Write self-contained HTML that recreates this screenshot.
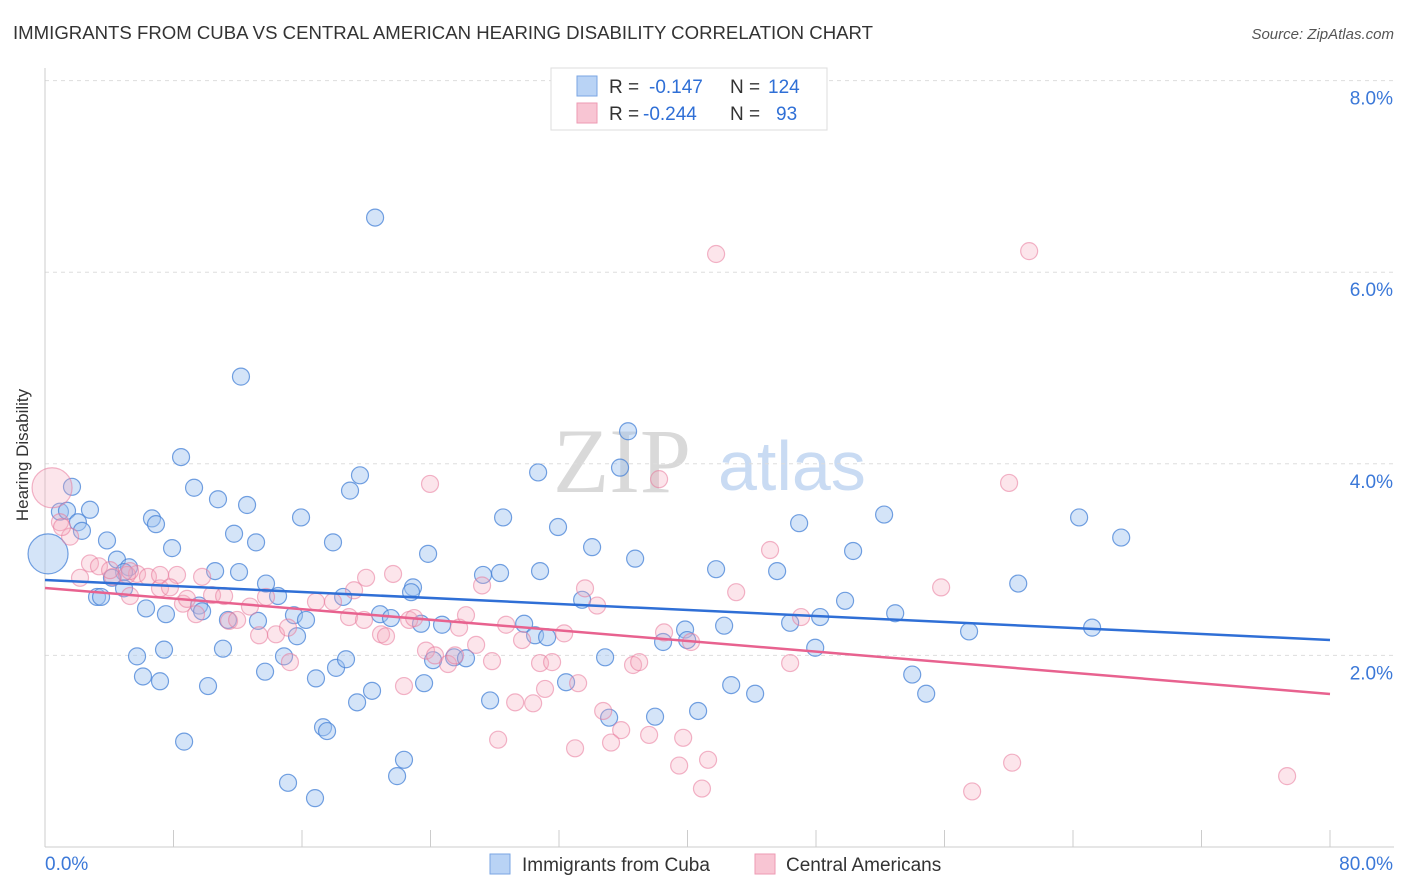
<!DOCTYPE html>
<html><head><meta charset="utf-8"><style>
body{margin:0;background:#fff;font-family:"Liberation Sans",sans-serif;}
svg{display:block}
</style></head><body>
<svg id="chart" width="1406" height="892">
<text x="13" y="39" font-size="18" fill="#333" textLength="860" lengthAdjust="spacingAndGlyphs">IMMIGRANTS FROM CUBA VS CENTRAL AMERICAN HEARING DISABILITY CORRELATION CHART</text>
<text x="1394" y="39" font-size="15" fill="#555" font-style="italic" text-anchor="end">Source: ZipAtlas.com</text>
<g>
<text x="553" y="492" font-size="92" font-family="Liberation Serif,serif" fill="#d9d9d9">ZIP</text>
<text x="718" y="490" font-size="70" fill="#c9dbf3">atlas</text>
</g>
<g id="grid"></g>
<g id="axes"></g>
<g id="pts"></g>
<g id="trend"></g>
<text x="28" y="455" font-size="17" fill="#333" transform="rotate(-90 28 455)" text-anchor="middle">Hearing Disability</text>
<g>
<rect x="551" y="68" width="276" height="62" fill="#fff" stroke="#ddd"/>
<rect x="577" y="76" width="20" height="20" fill="#b9d3f5" stroke="#7aa6e3"/>
<rect x="577" y="103" width="20" height="20" fill="#f8c5d3" stroke="#ee9ab3"/>
<text x="609" y="93" font-size="19" fill="#333">R = <tspan x="649" fill="#2f6fd6">-0.147</tspan><tspan x="730">N = </tspan><tspan x="768" fill="#2f6fd6">124</tspan></text>
<text x="609" y="120" font-size="19" fill="#333">R = <tspan x="643" fill="#2f6fd6">-0.244</tspan><tspan x="730">N = </tspan><tspan x="776" fill="#2f6fd6">93</tspan></text>
</g>
<g>
<rect x="490" y="854" width="20" height="20" fill="#b9d3f5" stroke="#7aa6e3"/>
<text x="522" y="871" font-size="19" fill="#333">Immigrants from Cuba</text>
<rect x="755" y="854" width="20" height="20" fill="#f8c5d3" stroke="#ee9ab3"/>
<text x="786" y="871" font-size="19" fill="#333">Central Americans</text>
</g>
</svg>
<script>
const yTicks=[2,4,6,8];
const yTickLabels=["2.0%","4.0%","6.0%","8.0%"];
const xTickLabels=["0.0%","80.0%"];
const blueX=[20.55,12.20,8.47,36.30,35.80,30.70,19.61,18.99,9.28,10.77,12.58,1.68,0.93,1.37,2.80,2.05,2.30,6.66,6.91,15.94,28.52,31.94,11.77,13.14,17.93,3.86,7.91,23.85,34.06,36.74,4.48,5.23,4.92,10.59,12.08,30.82,27.27,28.33,41.78,45.58,50.31,46.95,52.24,64.38,67.00,60.59,13.76,14.51,22.91,22.79,4.17,4.92,3.24,3.49,6.29,7.53,9.59,9.78,11.39,13.26,15.50,16.25,18.56,20.86,21.54,23.41,24.72,33.44,29.83,30.51,31.26,38.48,39.85,39.98,42.28,46.39,48.26,49.81,52.93,57.53,65.19,15.69,14.88,11.08,5.73,7.41,6.10,7.16,10.15,13.70,16.87,18.12,18.74,24.16,25.47,26.21,34.87,19.43,20.36,23.60,27.71,32.44,35.12,37.98,40.66,42.72,44.21,47.95,53.99,54.86,8.66,17.31,17.56,15.13,16.81,22.35,21.92,0.19];
const blueY=[6.57,4.91,4.07,4.34,3.96,3.91,3.88,3.72,3.75,3.63,3.57,3.76,3.50,3.51,3.52,3.39,3.30,3.43,3.37,3.44,3.44,3.34,3.27,3.18,3.18,3.20,3.12,3.06,3.13,3.01,3.00,2.92,2.87,2.88,2.87,2.88,2.84,2.86,2.90,2.88,3.09,3.38,3.47,3.44,3.23,2.75,2.75,2.62,2.71,2.66,2.81,2.70,2.61,2.61,2.49,2.43,2.52,2.46,2.37,2.36,2.42,2.37,2.61,2.43,2.39,2.33,2.32,2.58,2.33,2.21,2.19,2.14,2.27,2.16,2.31,2.34,2.40,2.57,2.44,2.25,2.29,2.20,1.99,2.07,1.99,2.06,1.78,1.73,1.68,1.83,1.76,1.87,1.96,1.95,1.98,1.97,1.98,1.51,1.63,1.71,1.53,1.72,1.35,1.36,1.42,1.69,1.60,2.08,1.80,1.60,1.10,1.25,1.21,0.67,0.51,0.91,0.74,3.06];
const pinkX=[41.78,61.27,0.44,0.93,1.56,1.06,23.97,38.23,60.02,45.14,2.80,3.36,2.18,4.23,5.73,6.41,5.11,7.16,8.22,9.78,4.05,5.29,8.59,9.40,8.84,10.40,11.15,11.46,11.96,12.76,13.33,14.38,15.13,13.76,16.87,17.93,19.24,19.99,21.67,18.93,19.86,20.92,21.23,22.67,22.98,25.78,26.21,23.72,24.28,25.09,25.53,26.84,27.83,27.21,28.71,29.70,30.82,31.57,33.62,34.37,32.32,36.61,36.99,38.54,40.22,43.03,47.07,46.39,55.79,34.75,35.87,37.61,39.73,28.21,29.27,30.39,31.13,33.19,33.00,35.24,22.35,15.25,39.48,41.28,40.90,57.72,60.21,77.33,5.29,7.16,7.78];
const pinkY=[6.19,6.22,3.75,3.39,3.24,3.34,3.79,3.84,3.80,3.10,2.96,2.93,2.81,2.82,2.85,2.82,2.84,2.70,2.84,2.82,2.89,2.88,2.54,2.43,2.59,2.63,2.62,2.36,2.37,2.51,2.21,2.22,2.29,2.61,2.56,2.56,2.68,2.81,2.85,2.40,2.37,2.22,2.20,2.37,2.39,2.29,2.42,2.05,2.00,1.91,2.00,2.11,1.94,2.73,2.32,2.16,1.92,1.93,2.70,2.52,2.23,1.90,1.93,2.24,2.14,2.66,2.40,1.92,2.71,1.42,1.22,1.17,1.14,1.12,1.51,1.50,1.65,1.71,1.03,1.09,1.68,1.93,0.85,0.91,0.61,0.58,0.88,0.74,2.62,2.84,2.71];
const blueTrend=[2.787,2.161];
const pinkTrend=[2.704,1.597];
const trendX=[0,80];
const bigBlue=[blueX.length-1];
const bigPink=[2];

const X0=45,X1=1330,Y0=847;
const xs=v=>X0+v/80*(X1-X0);
const ys=v=>Y0-v*95.8;
const NS="http://www.w3.org/2000/svg";
function mk(tag,attrs,parent){const e=document.createElementNS(NS,tag);for(const k in attrs)e.setAttribute(k,attrs[k]);parent.appendChild(e);return e;}
const grid=document.getElementById('grid'),axes=document.getElementById('axes'),pts=document.getElementById('pts'),trend=document.getElementById('trend');
yTicks.forEach((t,i)=>{
  const l=mk('line',{x1:X0,x2:1394,y1:ys(t),y2:ys(t),stroke:'#ddd','stroke-dasharray':'4 4'},grid);
  
  
  const tx=mk('text',{x:1393,y:ys(t)+24,'font-size':19,fill:'#3b78d8','text-anchor':'end'},grid);
  tx.textContent=yTickLabels[i];
  
  
});
const la=mk('line',{x1:X0,x2:X0,y1:68,y2:Y0,stroke:'#ccc'},axes);


const ba=mk('line',{x1:X0,x2:1394,y1:Y0,y2:Y0,stroke:'#ccc'},axes);


for(let i=0;i<=10;i++){
  const tk=mk('line',{x1:xs(i*8),x2:xs(i*8),y1:830,y2:Y0,stroke:'#ccc'},axes);
  
  
}
const xl0=mk('text',{x:45,y:870,'font-size':19,fill:'#3b78d8'},axes);xl0.textContent=xTickLabels[0];


const xl1=mk('text',{x:1393,y:870,'font-size':19,fill:'#3b78d8','text-anchor':'end'},axes);xl1.textContent=xTickLabels[1];


function dots(X,Y,big,fill,stroke,name){
  X.forEach((x,i)=>{
    const r=big.includes(i)?20:8.5;
    const c=mk('circle',{cx:xs(x),cy:ys(Y[i]),r:r,fill:fill,stroke:stroke,'stroke-width':1.2},pts);
    
    
  });
}
dots(blueX,blueY,bigBlue,'rgba(160,195,240,0.45)','rgba(70,130,215,0.75)','cuba-point');
dots(pinkX,pinkY,bigPink,'rgba(245,168,190,0.3)','rgba(232,120,155,0.55)','central-american-point');
const tb=mk('line',{x1:xs(trendX[0]),x2:xs(trendX[1]),y1:ys(blueTrend[0]),y2:ys(blueTrend[1]),stroke:'#2f6fd6','stroke-width':2.5},trend);


const tp=mk('line',{x1:xs(trendX[0]),x2:xs(trendX[1]),y1:ys(pinkTrend[0]),y2:ys(pinkTrend[1]),stroke:'#e8628f','stroke-width':2.5},trend);


</script>
</body></html>
